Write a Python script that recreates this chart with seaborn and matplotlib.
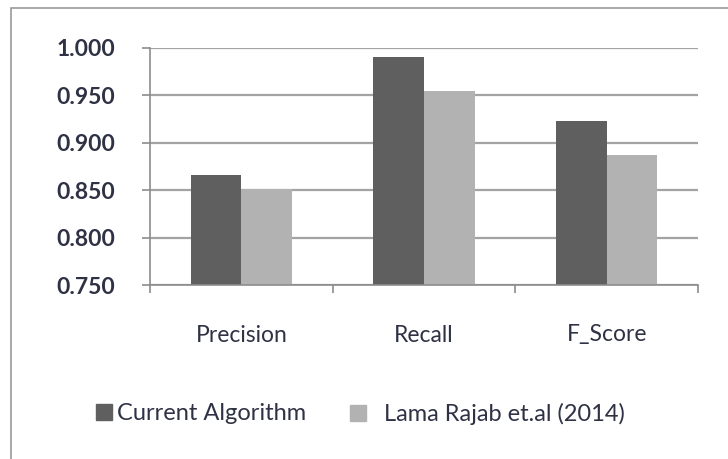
import matplotlib
matplotlib.use("Agg")
import matplotlib.pyplot as plt
import seaborn as sns
import pandas as pd
from matplotlib.patches import Rectangle
from matplotlib.lines import Line2D

categories = ["Precision", "Recall", "F_Score"]
series_names = ["Current Algorithm", "Lama Rajab et.al (2014)"]
current_vals = [0.866, 0.990, 0.923]
lama_vals = [0.851, 0.955, 0.887]
yticks = [0.750, 0.800, 0.850, 0.900, 0.950, 1.000]

df = pd.DataFrame({
    "Metric": categories * 2,
    "Series": [series_names[0]] * 3 + [series_names[1]] * 3,
    "Value": current_vals + lama_vals,
})

sns.set_theme(style="white")
plt.rcParams['font.family'] = ['Lato', 'DejaVu Sans']

fig = plt.figure(figsize=(7.28, 4.59), dpi=100)
ax = fig.add_axes([150 / 728, 1 - 285 / 459, (698 - 150) / 728, (285 - 48) / 459])

palette = {series_names[0]: "#5f5f5f", series_names[1]: "#b2b2b2"}
sns.barplot(data=df, x="Metric", y="Value", hue="Series", palette=palette,
            width=0.556, ax=ax, legend=False, saturation=1, linewidth=0)

txt = "#2e3244"
ax.set_ylim(0.75, 1.0)
ax.set_xlim(-0.5, 2.5)
ax.set_yticks(yticks)
ax.set_yticklabels([f"{v:.3f}" for v in yticks], fontsize=16.5, color=txt, fontweight="bold")
ax.yaxis.grid(True, color="#a3a3a3", linewidth=1.6)
ax.set_axisbelow(True)
ax.set_xlabel("")
ax.set_ylabel("")
ax.set_xticks([-0.5, 0.5, 1.5, 2.5])
ax.set_xticklabels([])
ax.tick_params(axis="x", which="major", direction="out", length=6, width=1.2, color="#8c8c8c", bottom=True)
ax.tick_params(axis="y", direction="out", length=6, width=1.2, color="#8c8c8c", left=True, pad=19)
ax.set_xticks([0, 1, 2], minor=True)
ax.set_xticklabels(categories, minor=True, fontsize=16.5, color=txt)
ax.tick_params(axis="x", which="minor", length=0, pad=36)
for lbl in ax.get_xticklabels(minor=True):
    lbl.set_va("center")
for s in ["top", "right"]:
    ax.spines[s].set_visible(False)
for s in ["left", "bottom"]:
    ax.spines[s].set_color("#8c8c8c")
    ax.spines[s].set_linewidth(1.2)

legend_x = [92 / 728, 346 / 728]
legend_pad = [0.05, 0.6]
for name, lx, tp in zip(series_names, legend_x, legend_pad):
    h = Line2D([], [], marker="s", linestyle="", markersize=11, color=palette[name])
    fig.legend([h], [name], loc="center left", bbox_to_anchor=(lx, 1 - 414 / 459),
               frameon=False, fontsize=17, handletextpad=tp, handlelength=1.0,
               labelcolor=txt, borderaxespad=0, borderpad=0)

fig.patches.append(Rectangle((11 / 728, -0.1), 1.2, 1 - 8 / 459 + 0.1, transform=fig.transFigure,
                             fill=False, edgecolor="#9a9a9a", linewidth=1.2))

fig.savefig("out.png", dpi=100, facecolor="white")
